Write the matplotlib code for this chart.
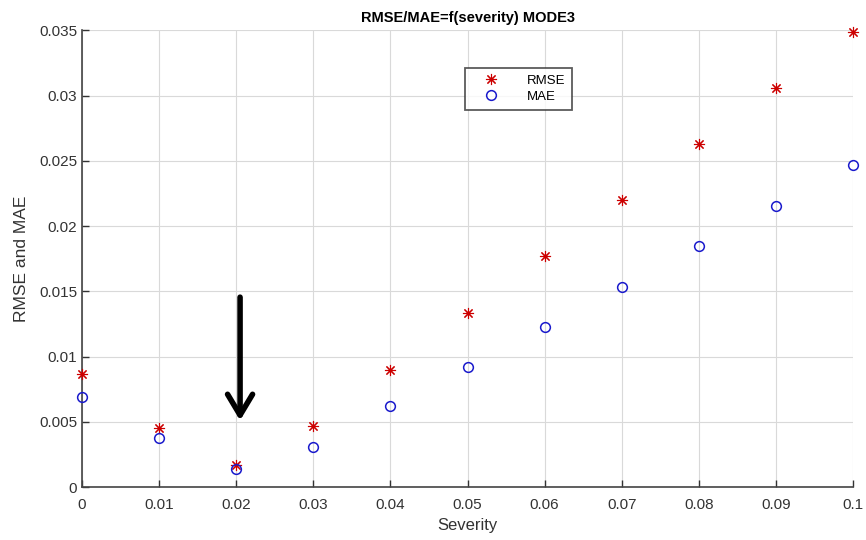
import matplotlib.pyplot as plt
import numpy as np

plt.rcParams['font.family'] = ['Liberation Sans', 'DejaVu Sans']

# severity levels and errors
severity = [0, 0.01, 0.02, 0.03, 0.04, 0.05, 0.06, 0.07, 0.08, 0.09, 0.1]
rmse = [0.0087, 0.0045, 0.0017, 0.0047, 0.0090, 0.0133, 0.0177, 0.0220, 0.0263, 0.0306, 0.0349]
mae = [0.0069, 0.00375, 0.0014, 0.0031, 0.0062, 0.0092, 0.0123, 0.0153, 0.0185, 0.0215, 0.0247]

xticks = [0, 0.01, 0.02, 0.03, 0.04, 0.05, 0.06, 0.07, 0.08, 0.09, 0.1]
xticklabels = ['0', '0.01', '0.02', '0.03', '0.04', '0.05', '0.06', '0.07', '0.08', '0.09', '0.1']
yticks = [0, 0.005, 0.01, 0.015, 0.02, 0.025, 0.03, 0.035]
yticklabels = ['0', '0.005', '0.01', '0.015', '0.02', '0.025', '0.03', '0.035']

fig = plt.figure(figsize=(8.66, 5.4), dpi=100)
ax = fig.add_axes([0.0947, 0.098, 0.8903, 0.846])

# matlab style asterisk: 8 arms
ax.plot(severity, rmse, linestyle='none', marker=(8, 2, 0), color='#cc0000',
        markersize=8, markeredgewidth=0.8, label='RMSE', clip_on=False, zorder=3)
ax.plot(severity, mae, linestyle='none', marker='o', markerfacecolor='none',
        markeredgecolor='#1a1acc', markersize=7, markeredgewidth=1.1,
        label='MAE', clip_on=False, zorder=3)

ax.set_xlim(0, 0.1)
ax.set_ylim(0, 0.035)
ax.set_xticks(xticks)
ax.set_xticklabels(xticklabels)
ax.set_yticks(yticks)
ax.set_yticklabels(yticklabels)
ax.tick_params(direction='in', length=5, labelsize=11, colors='#333333', width=1)
ax.tick_params(axis='x', pad=8)
ax.grid(True, color='#d9d9d9', linewidth=0.8)
ax.set_axisbelow(True)

for s in ['top', 'right']:
    ax.spines[s].set_visible(False)
for s in ['left', 'bottom']:
    ax.spines[s].set_color('#444444')
    ax.spines[s].set_linewidth(1.2)

ax.set_xlabel('Severity', fontsize=12, color='#333333', labelpad=4)
ax.set_ylabel('RMSE and MAE', fontsize=12.5, color='#333333', labelpad=7)
ax.set_title('RMSE/MAE=f(severity) MODE3', fontsize=10.5, fontweight='bold', pad=6)

leg = ax.legend(loc='upper left', bbox_to_anchor=(0.488, 0.932), fontsize=9.5,
                frameon=True, fancybox=False, edgecolor='#333333',
                borderpad=0.5, handletextpad=1.2, labelspacing=0.3, handlelength=3.0)
leg.get_frame().set_linewidth(1.3)

# arrow pointing at the minimum
ax.annotate('', xy=(0.0205, 0.0051), xytext=(0.0205, 0.01455),
            arrowprops=dict(arrowstyle='->,head_width=0.45,head_length=0.75',
                            mutation_scale=20, color='black', linewidth=4,
                            shrinkA=0, shrinkB=0))

fig.savefig('out.png', dpi=100)
